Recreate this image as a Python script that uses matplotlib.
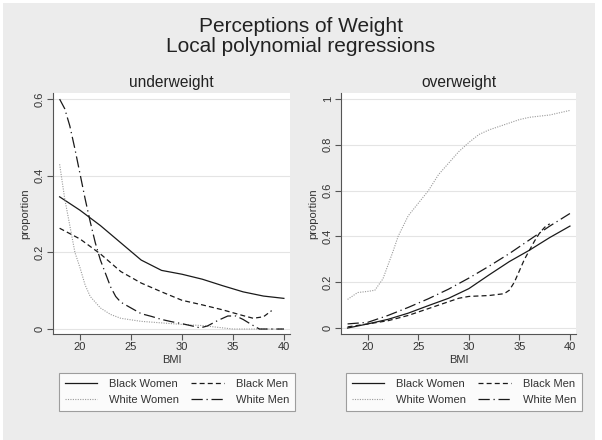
import matplotlib.pyplot as plt
from matplotlib.patches import Rectangle

plt.rcParams['font.family'] = ['Liberation Sans', 'DejaVu Sans']

# underweight panel
uw_bw_x = [18, 20, 22, 24, 26, 28, 30, 32, 34, 36, 38, 40]
uw_bw_y = [0.345, 0.31, 0.27, 0.225, 0.18, 0.153, 0.143, 0.13, 0.113, 0.097, 0.086, 0.08]
uw_bm_x = [18, 20, 22, 24, 26, 28, 30, 32, 34, 36, 37, 38, 38.8]
uw_bm_y = [0.263, 0.235, 0.196, 0.15, 0.12, 0.097, 0.075, 0.063, 0.05, 0.035, 0.028, 0.032, 0.048]
uw_ww_x = [18, 18.5, 19, 19.5, 20, 20.5, 21, 22, 23, 24, 26, 28, 30, 32, 34, 35, 40]
uw_ww_y = [0.43, 0.34, 0.27, 0.2, 0.16, 0.115, 0.085, 0.055, 0.038, 0.028, 0.02, 0.016, 0.012, 0.009, 0.003, 0.0, 0.0]
uw_wm_x = [18, 18.5, 19, 19.5, 20, 20.5, 21, 21.5, 22, 22.5, 23, 23.5, 24, 25, 26, 27, 28, 29, 30, 31,
           31.8, 32.5, 33.5, 34.5, 35.3, 36, 36.8, 37.6, 40]
uw_wm_y = [0.6, 0.575, 0.53, 0.47, 0.405, 0.34, 0.28, 0.225, 0.18, 0.145, 0.11, 0.085, 0.07, 0.055, 0.04,
           0.033, 0.025, 0.019, 0.014, 0.008, 0.003, 0.008, 0.022, 0.034, 0.034, 0.025, 0.012, 0.0, 0.0]

# overweight panel
ow_bw_x = [18, 20, 22, 24, 26, 28, 30, 32, 34, 36, 38, 40]
ow_bw_y = [0.0, 0.018, 0.038, 0.065, 0.098, 0.13, 0.172, 0.232, 0.29, 0.34, 0.395, 0.445]
ow_bm_x = [18, 20, 22, 24, 26, 28, 29, 30, 32, 33.5, 34, 34.5, 35, 35.5, 36, 36.5, 37, 37.5, 38]
ow_bm_y = [0.005, 0.018, 0.032, 0.055, 0.085, 0.115, 0.13, 0.138, 0.142, 0.15, 0.165, 0.2, 0.25, 0.3,
           0.34, 0.38, 0.415, 0.44, 0.455]
ow_ww_x = [18, 19, 20, 20.7, 21.5, 22, 22.5, 23, 24, 25, 26, 27, 28, 29, 30, 31, 32, 33, 34, 35, 36, 37,
           38, 39, 40]
ow_ww_y = [0.125, 0.155, 0.16, 0.165, 0.215, 0.275, 0.335, 0.4, 0.49, 0.545, 0.6, 0.67, 0.72, 0.77, 0.81,
           0.845, 0.865, 0.88, 0.895, 0.91, 0.92, 0.925, 0.93, 0.94, 0.95]
ow_wm_x = [18, 20, 22, 24, 26, 28, 30, 32, 34, 36, 38, 40]
ow_wm_y = [0.018, 0.025, 0.055, 0.09, 0.128, 0.17, 0.218, 0.27, 0.325, 0.385, 0.445, 0.5]

groups = ['Black Women', 'Black Men', 'White Women', 'White Men']
panels = [
    ('underweight', [(uw_bw_x, uw_bw_y), (uw_bm_x, uw_bm_y), (uw_ww_x, uw_ww_y), (uw_wm_x, uw_wm_y)],
     [0, 0.2, 0.4, 0.6], ['0', '0.2', '0.4', '0.6'], (-0.013, 0.616)),
    ('overweight', [(ow_bw_x, ow_bw_y), (ow_bm_x, ow_bm_y), (ow_ww_x, ow_ww_y), (ow_wm_x, ow_wm_y)],
     [0, 0.2, 0.4, 0.6, 0.8, 1], ['0', '0.2', '0.4', '0.6', '0.8', '1'], (-0.026, 1.026)),
]
styles = [
    dict(color='#1a1a1a', lw=0.9, ls='-'),
    dict(color='#1a1a1a', lw=0.9, ls=(0, (4, 2.5))),
    dict(color='#9a9a9a', lw=0.8, ls=(0, (1, 1.2))),
    dict(color='#1a1a1a', lw=0.9, ls=(0, (9, 3, 1, 3))),
]

fig = plt.figure(figsize=(6.02, 4.40), dpi=100, facecolor='white')
fig.patches.append(Rectangle((3 / 602, 0), 592 / 602, 437 / 440, transform=fig.transFigure,
                             facecolor='#ececec', edgecolor='none', zorder=-10))

fig.text(0.5, 1 - 27 / 440, 'Perceptions of Weight', ha='center', va='center', fontsize=15, color='#222222')
fig.text(0.5, 1 - 47 / 440, 'Local polynomial regressions', ha='center', va='center', fontsize=15,
         color='#222222')

axes_pos = [(53 / 602, 106 / 440, 237 / 602, 241 / 440), (341 / 602, 106 / 440, 235 / 602, 241 / 440)]
leg_center = [177 / 602, 464 / 602]

for (title, series, yt, ytl, ylim), pos, lx in zip(panels, axes_pos, leg_center):
    ax = fig.add_axes(pos)
    ax.set_facecolor('white')
    lines = []
    for (x, y), st, name in zip(series, styles, groups):
        lines += ax.plot(x, y, label=name, **st)
    ax.set_xlim(17.35, 40.6)
    ax.set_ylim(*ylim)
    ax.set_xticks([20, 25, 30, 35, 40])
    ax.set_yticks(yt)
    ax.set_yticklabels(ytl, rotation=90, va='center')
    ax.grid(axis='y', color='#e4e4e4', lw=0.8)
    ax.set_axisbelow(True)
    for s in ['top', 'right']:
        ax.spines[s].set_visible(False)
    for s in ['left', 'bottom']:
        ax.spines[s].set_color('#555555')
        ax.spines[s].set_linewidth(0.8)
    ax.tick_params(colors='#555555', labelcolor='#333333', labelsize=8, length=4, width=0.8, pad=2)
    ax.set_xlabel('BMI', fontsize=8, color='#333333', labelpad=2)
    ax.set_ylabel('proportion', fontsize=8, color='#333333', labelpad=3)
    ax.set_title(title, fontsize=11.2, color='#222222', pad=4)
    # column-wise fill: row 1 = Black Women / Black Men, row 2 = White Women / White Men
    order = [0, 2, 1, 3]
    leg = fig.legend([lines[i] for i in order], [groups[i] for i in order], loc='upper center',
                     bbox_to_anchor=(lx, 1 - 373 / 440), ncol=2, fontsize=8, frameon=True, fancybox=False,
                     handlelength=2.9, handletextpad=1.1, columnspacing=1.1,
                     borderpad=0.55, labelspacing=0.55, borderaxespad=0)
    leg.get_frame().set_edgecolor('#888888')
    leg.get_frame().set_linewidth(0.8)
    for t in leg.get_texts():
        t.set_color('#333333')

fig.savefig('out.png', dpi=100, facecolor=fig.get_facecolor())
